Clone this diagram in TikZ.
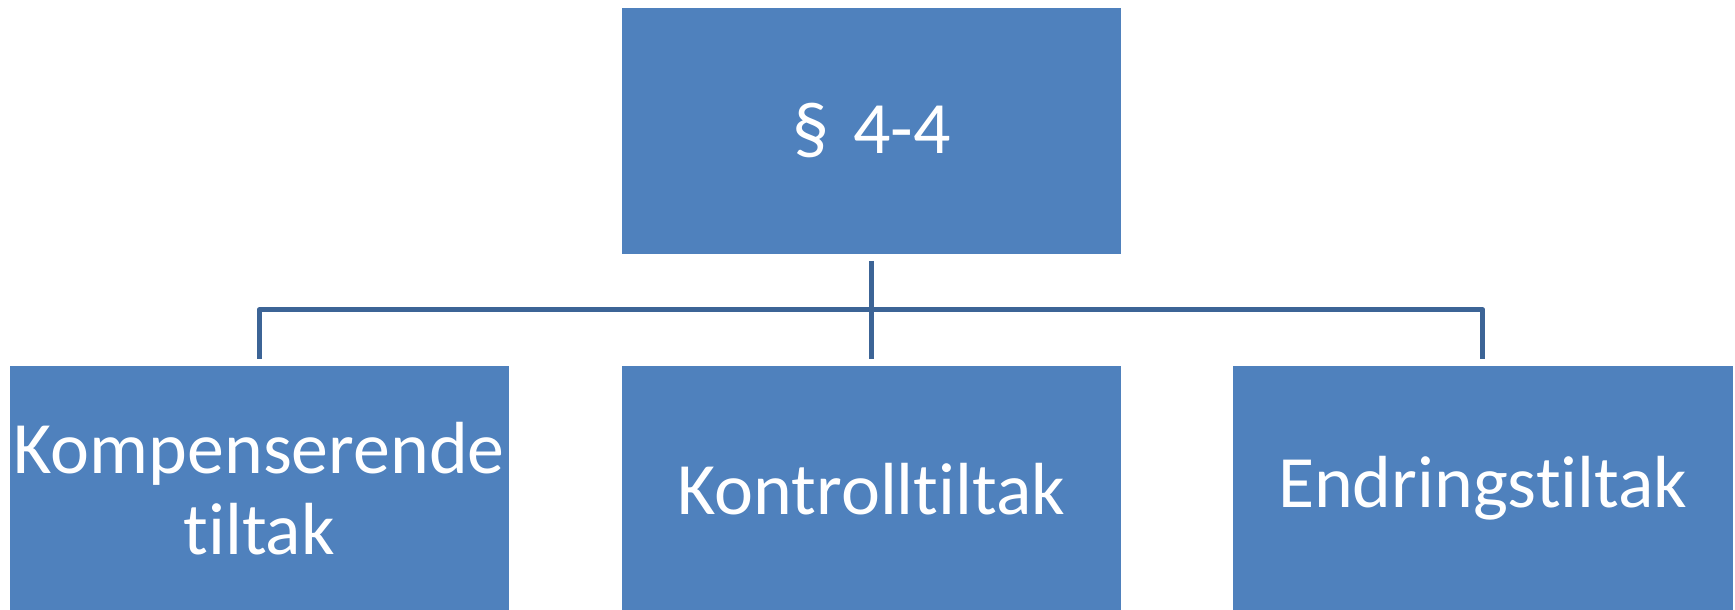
\documentclass[tikz,border=0pt]{standalone}
\usepackage{fontspec}
\setmainfont{Carlito}[Ligatures=NoCommon]
\usetikzlibrary{arrows,calc}

\definecolor{boxblue}{RGB}{79,129,189}
\definecolor{linkblue}{RGB}{60,100,150}

\begin{document}
\begin{tikzpicture}[x=0.01cm,y=-0.01cm,node distance=3.575cm,
                    box/.style={rectangle,fill=boxblue,text=white,minimum width=4.99cm,
                      minimum height=2.46cm,inner sep=0pt,text width=4.95cm,align=center,
                      font=\fontsize{21}{23}\selectfont},
                    link/.style={draw=linkblue,line width=1.5pt,line join=round,
                      shorten >=0.06cm,shorten <=0.06cm}]

  \useasboundingbox (0,0) rectangle (1735,610);

  \node[box] (top) at (871.5,131) {§ 4-4};
  \node[box] (kontroll) [below of=top] {Kontrolltiltak};
  \node[box] (komp) [left of=kontroll,node distance=6.12cm] {Kompenserende\\tiltak};
  \node[box] (endring) [right of=kontroll,node distance=6.11cm] {Endringstiltak};

  \coordinate (bus) at ($(top.south)!0.5!(kontroll.north)$);

  \draw[link] (top) -- (kontroll);
  \draw[link] (komp.north) |- (bus) -| (endring.north);
\end{tikzpicture}
\end{document}
